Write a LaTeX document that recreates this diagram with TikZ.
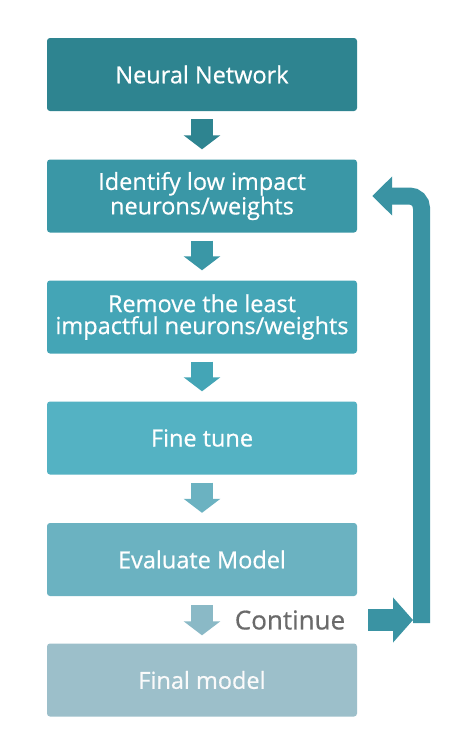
\documentclass[tikz,border=0pt]{standalone}
\usepackage{fontspec}
\setmainfont{Open Sans}
\newfontfamily\boxfont[FakeBold=0.6]{Open Sans}
\usetikzlibrary{arrows.meta}
\definecolor{cA}{HTML}{2E8490}
\definecolor{cB}{HTML}{3A97A6}
\definecolor{cC}{HTML}{44A5B6}
\definecolor{cD}{HTML}{54B2C3}
\definecolor{cE}{HTML}{6BB2C1}
\definecolor{cF}{HTML}{9CBFCA}
\definecolor{aE}{HTML}{8AB9C6}
\definecolor{cR}{HTML}{3A93A3}
\definecolor{tgray}{HTML}{6A6A6A}
\begin{document}
\begin{tikzpicture}[x=1pt,y=-1pt,
  stepbox/.style={rectangle, rounded corners=3pt, minimum width=310pt, minimum height=73pt,
    text=white, align=center, font=\boxfont\fontsize{23.5}{22}\selectfont, inner sep=0pt},
  downarrow/.style={line width=22pt, -{Triangle[width=36pt,length=14pt]}},
  loopline/.style={line width=17pt, draw=cR, rounded corners=12pt, -{Triangle[width=38pt,length=20pt]}},
  contarrow/.style={line width=22pt, draw=cR, -{Triangle[width=44pt,length=20pt]}}]
\useasboundingbox[fill=white] (0,0) rectangle (464,736);
\node[stepbox, fill=cA] (b1) at (202,74.5) {Neural Network};
\node[stepbox, fill=cB] (b2) at (202,196) {Identify low impact\\neurons/weights};
\node[stepbox, fill=cC] (b3) at (202,317) {Remove the least\\impactful neurons/weights};
\node[stepbox, fill=cD] (b4) at (202,438) {Fine tune};
\node[stepbox, fill=cE] (b5) at (202,559.5) {Evaluate Model};
\node[stepbox, fill=cF, text=white!96!gray] (b6) at (202,680) {Final model};
\draw[downarrow, draw=cA] ([yshift=-8pt]b1.south) -- ([yshift=10pt]b2.north);
\draw[downarrow, draw=cB] ([yshift=-8pt]b2.south) -- ([yshift=10pt]b3.north);
\draw[downarrow, draw=cC] ([yshift=-8pt]b3.south) -- ([yshift=10pt]b4.north);
\draw[downarrow, draw=cE] ([yshift=-8pt]b4.south) -- ([yshift=10pt]b5.north);
\draw[downarrow, draw=aE] ([yshift=-9pt]b5.south) -- ([yshift=8pt]b6.north);
\node[text=tgray, font=\boxfont\fontsize{26}{28}\selectfont, anchor=center] (cont) at (290,620) {Continue};
\coordinate (cs) at (368,620);
\coordinate (ce) at (413,620);
\coordinate (lp) at (421.5,623);
\draw[contarrow] (cs) -- (ce);
\draw[loopline] (lp) |- ([xshift=15pt]b2.east);
\end{tikzpicture}
\end{document}
